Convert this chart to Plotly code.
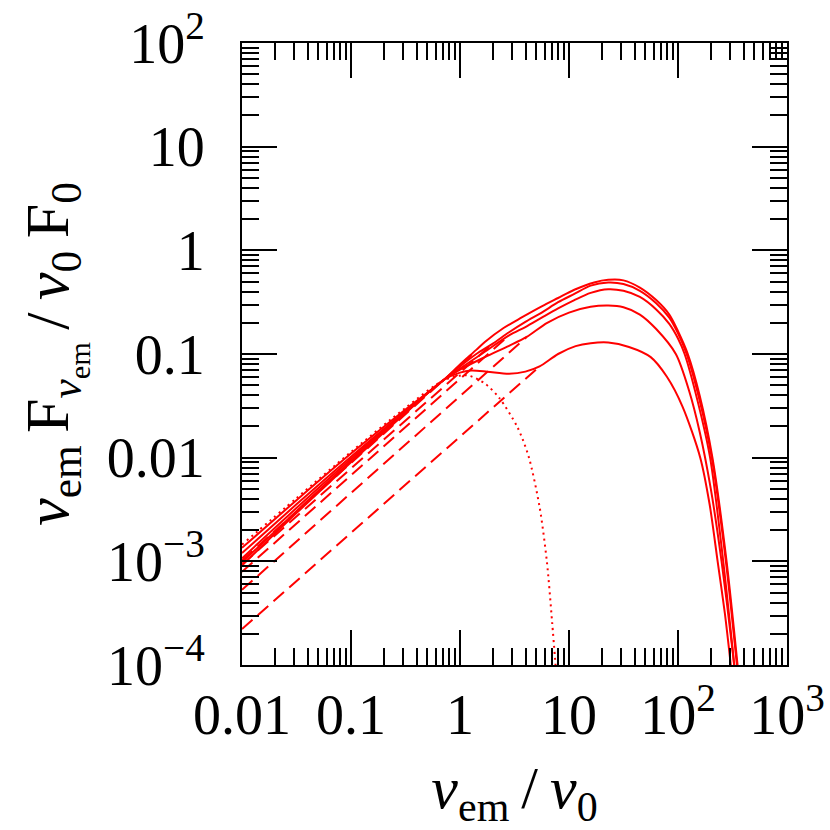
import plotly.graph_objects as go

# values (x = nu_em/nu_0, y = nu F_nu / nu_0 F_0)
dotted_x = [0.01, 0.0316, 0.1, 0.316, 0.708, 1.15, 1.69, 2.3, 3.37, 4.26, 5.36, 6.25, 7.01, 7.59]
dotted_y = [1.45e-3, 4.07e-3, 0.01135, 0.0302, 0.0556, 0.0624, 0.0519, 0.0375, 0.0196,
            0.01028, 3.39e-3, 1.02e-3, 2.55e-4, 8.9e-5]

s1_x = [0.01, 0.0316, 0.1, 0.316, 0.708, 1.0, 1.41, 1.69, 2.51, 3.65, 5.62, 7.94, 11.2, 17.0,
        22.9, 31.6, 44.7, 63.1, 83.2, 100, 123, 158, 207, 279, 352]
s1_y = [1.35e-3, 3.89e-3, 0.01096, 0.0292, 0.0562, 0.0794, 0.1096, 0.1306, 0.178, 0.224, 0.288,
        0.347, 0.417, 0.490, 0.519, 0.513, 0.437, 0.331, 0.240, 0.166, 0.1, 0.0398, 0.01, 1e-3, 1e-4]

s2_x = [0.01, 0.0316, 0.1, 0.316, 0.708, 1.0, 1.41, 2.0, 2.82, 3.98, 5.62, 7.94, 11.2, 15.8,
        22.9, 31.6, 44.7, 63.1, 83.2, 100, 120, 158, 204, 275, 347]
s2_y = [1.2e-3, 3.55e-3, 0.01023, 0.0282, 0.0562, 0.0759, 0.1, 0.126, 0.162, 0.204, 0.251, 0.316,
        0.380, 0.457, 0.489, 0.473, 0.407, 0.309, 0.224, 0.158, 0.1, 0.0355, 0.01, 1e-3, 1e-4]

s3_x = [0.01, 0.0316, 0.1, 0.316, 0.708, 1.0, 1.58, 2.82, 3.98, 5.62, 7.94, 11.2, 15.8, 22.9,
        31.6, 44.7, 63.1, 83.2, 100, 115, 151, 197, 260, 328]
s3_y = [1.07e-3, 3.27e-3, 9.77e-3, 0.0279, 0.0562, 0.0724, 0.1, 0.151, 0.182, 0.224, 0.275, 0.331,
        0.389, 0.422, 0.407, 0.355, 0.269, 0.195, 0.141, 0.1, 0.0355, 0.01, 1e-3, 1e-4]

s4_x = [0.01, 0.0316, 0.1, 0.316, 0.708, 1.0, 1.69, 2.82, 4.09, 6.31, 10, 15.8, 22.9, 31.6, 44.7,
        63.1, 95.5, 126, 158, 200, 251, 316, 331]
s4_y = [9.77e-4, 3.05e-3, 9.33e-3, 0.0272, 0.0562, 0.0708, 0.0933, 0.120, 0.146, 0.200, 0.251,
        0.285, 0.293, 0.282, 0.240, 0.174, 0.1, 0.0447, 0.0178, 5.0e-3, 1e-3, 1.41e-4, 8.9e-5]

s5_x = [0.01, 0.0316, 0.1, 0.316, 0.708, 1.0, 1.26, 1.78, 2.82, 3.98, 5.37, 7.94, 11.5, 15.8,
        22.9, 35.5, 56.2, 79.1, 110, 160, 195, 231, 269, 305]
s5_y = [9.12e-4, 2.92e-3, 9.02e-3, 0.0269, 0.0562, 0.0661, 0.0692, 0.0676, 0.0646, 0.0676, 0.0759,
        0.1, 0.119, 0.127, 0.129, 0.117, 0.0933, 0.0603, 0.0311, 0.01, 3.55e-3, 1e-3, 3.16e-4, 1e-4]

# straight power-law pieces (dashed): start and end points
dashed_x = [[0.01, 1.41], [0.01, 2.0], [0.01, 2.82], [0.01, 4.09], [0.01, 5.37]]
dashed_y = [[1.02e-3, 0.107], [9.33e-4, 0.126], [7.94e-4, 0.151], [5.31e-4, 0.146], [2.22e-4, 0.0759]]

x_tickvals = [0.01, 0.1, 1, 10, 100, 1000]
x_ticktext = ["0.01", "0.1", "1", "10", "10<sup>2</sup>", "10<sup>3</sup>"]
y_tickvals = [1e-4, 1e-3, 0.01, 0.1, 1, 10, 100]
y_ticktext = ["10<sup>−4</sup>", "10<sup>−3</sup>", "0.01", "0.1", "1", "10", "10<sup>2</sup>"]

RED = "#ff0000"
FONT = "Liberation Serif"

fig = go.Figure()

for xs, ys in [(s1_x, s1_y), (s2_x, s2_y), (s3_x, s3_y), (s4_x, s4_y), (s5_x, s5_y)]:
    fig.add_trace(go.Scatter(x=xs, y=ys, mode="lines",
                             line={"color": RED, "width": 2, "shape": "spline", "smoothing": 0.8}))

for xs, ys in zip(dashed_x, dashed_y):
    fig.add_trace(go.Scatter(x=xs, y=ys, mode="lines",
                             line={"color": RED, "width": 2, "dash": "14px,7px"}))

fig.add_trace(go.Scatter(x=dotted_x, y=dotted_y, mode="lines",
                         line={"color": RED, "width": 2, "dash": "2px,4px",
                               "shape": "spline", "smoothing": 0.8}))

axis_common = {
    "type": "log",
    "automargin": False,
    "showgrid": False,
    "zeroline": False,
    "showline": True,
    "linecolor": "black",
    "linewidth": 2,
    "mirror": "allticks",
    "ticks": "inside",
    "ticklen": 35,
    "tickwidth": 2,
    "tickcolor": "black",
    "tickfont": {"family": FONT, "size": 56, "color": "black"},
    "minor": {"ticks": "inside", "ticklen": 17, "tickwidth": 2, "tickcolor": "black",
              "dtick": "D1", "showgrid": False},
}

fig.update_layout(
    width=830,
    height=830,
    margin={"l": 242, "r": 43, "t": 43, "b": 165},
    paper_bgcolor="white",
    plot_bgcolor="white",
    showlegend=False,
    xaxis={
        **axis_common,
        "range": [-2, 3],
        "tickmode": "array",
        "tickvals": x_tickvals,
        "ticktext": x_ticktext,
        "ticklabelstandoff": 0,
        "title": {"text": "\u2009\u2009<i>ν</i><sub>em</sub>\u2009/\u2009<i>ν</i><sub>0</sub>",
                  "font": {"family": FONT, "size": 60, "color": "black"}, "standoff": 29},
    },
    yaxis={
        **axis_common,
        "range": [-4, 2],
        "tickmode": "array",
        "tickvals": y_tickvals,
        "ticktext": y_ticktext,
        "ticklabelstandoff": 24,
        "title": {"text": "<i>ν</i><sub>em</sub>\u2009F<sub><i>ν</i><sub>em</sub></sub>\u2009/\u2009"
                          "<i>ν</i><sub>0</sub>\u2009F<sub>0</sub>",
                  "font": {"family": FONT, "size": 62, "color": "black"}, "standoff": 18},
    },
)

# the page body has a default 8px margin; drop it so the figure sits at the window origin
fig.write_html("out.html", config={"displayModeBar": False},
               post_script="document.body.style.margin = '0';")
